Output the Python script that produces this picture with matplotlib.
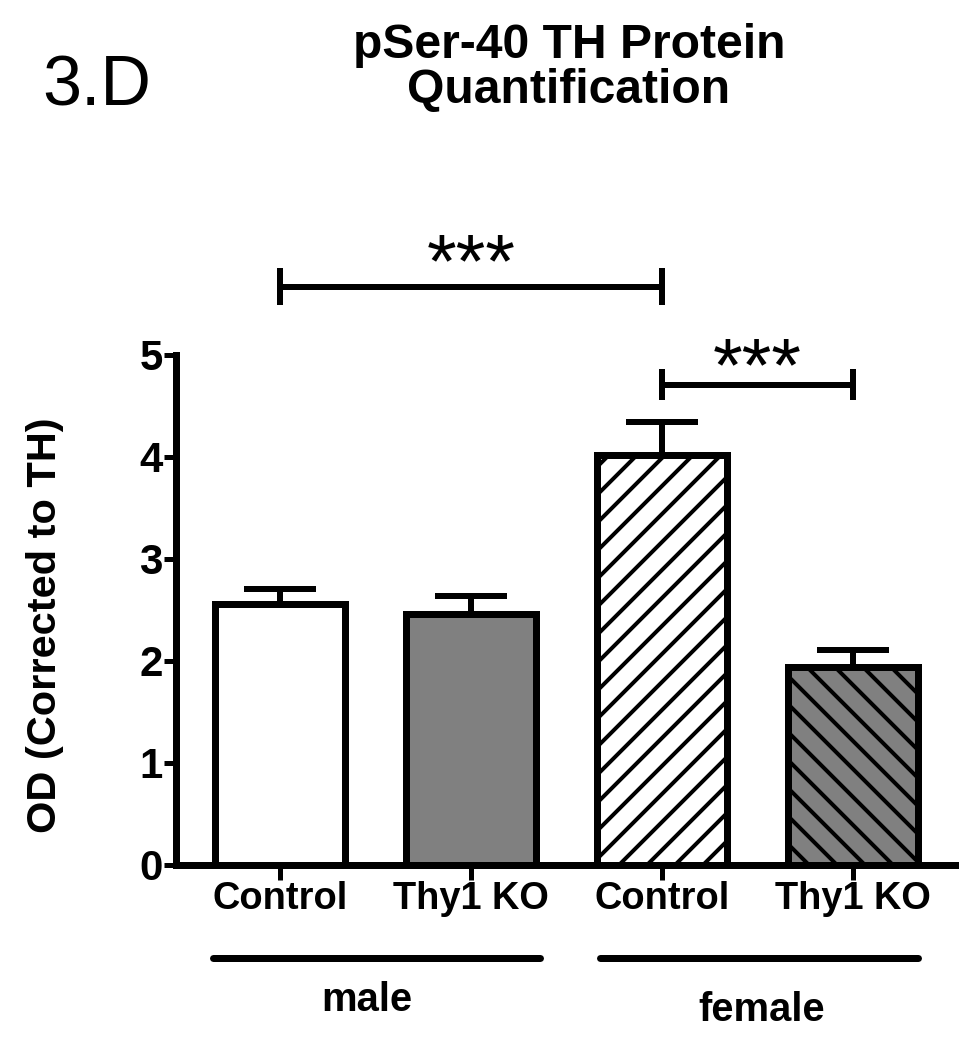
import matplotlib

matplotlib.use("Agg")
import matplotlib.pyplot as plt
from matplotlib import transforms

DPI = 84


def px(n: float) -> float:
    # pixel size -> points at the chosen dpi
    return n * 72 / DPI


groups = ["Control", "Thy1 KO", "Control", "Thy1 KO"]
means = [2.56, 2.46, 4.02, 1.94]
sems = [0.15, 0.18, 0.32, 0.17]
fills = ["white", "#808080", "white", "#808080"]
hatches = ["", "", "/", "\\"]
sexes = ["male", "female"]

plt.rcParams["font.family"] = ["Liberation Sans", "DejaVu Sans"]
plt.rcParams["hatch.linewidth"] = px(4)

fig = plt.figure(figsize=(974 / DPI, 1050 / DPI), dpi=DPI)
ax = fig.add_axes([176 / 974, 1 - 865 / 1050, (955 - 176) / 974, 510 / 1050])

x = list(range(len(means)))
ax.bar(
    x,
    means,
    width=0.68,
    color=fills,
    edgecolor="black",
    linewidth=px(7),
    hatch=hatches,
    zorder=3,
)
ax.errorbar(
    x,
    means,
    yerr=[[0] * len(sems), sems],
    fmt="none",
    ecolor="black",
    elinewidth=px(6),
    capsize=px(36),
    capthick=px(6),
    zorder=2,
)

ax.set_xlim(-0.545, 3.534)
ax.set_ylim(0, 5)
ax.set_yticks(range(6))
ax.set_xticks(x)
ax.set_xticklabels(groups, fontsize=px(38), fontweight="bold")
for lab in ax.get_yticklabels():
    lab.set_fontsize(px(42))
    lab.set_fontweight("bold")
ax.tick_params(axis="y", length=px(12), width=px(5), pad=1)
ax.tick_params(axis="x", length=px(15), width=px(5), pad=1)

for side in ("top", "right"):
    ax.spines[side].set_visible(False)
for side in ("left", "bottom"):
    ax.spines[side].set_linewidth(px(7))


# significance brackets
def bracket(x0: float, x1: float, y: float, cap: float, star_y: float) -> None:
    ax.plot([x0, x1], [y, y], color="black", lw=px(6), clip_on=False,
            solid_capstyle="butt")
    for xx in (x0, x1):
        ax.plot([xx, xx], [y - cap, y + cap], color="black", lw=px(6),
                clip_on=False)
    ax.text((x0 + x1) / 2, star_y, "***", ha="center", va="baseline",
            fontsize=px(76), clip_on=False)


bracket(0.0, 2.0, 5.67, 0.15, 5.67)
bracket(2.0, 3.0, 4.71, 0.12, 4.65)

# group lines under the x labels
trans = transforms.blended_transform_factory(ax.transData, ax.transAxes)
spans = [(-0.35, 1.36), (1.675, 3.34)]
label_x = [0.455, 2.52]
label_y = [-0.265, -0.285]
for (a, b), name, lx, ly in zip(spans, sexes, label_x, label_y):
    ax.plot([a, b], [-0.182, -0.182], color="black", lw=px(7),
            transform=trans, clip_on=False, solid_capstyle="round")
    ax.text(lx, ly, name, transform=trans, ha="center", va="center",
            fontsize=px(40), fontweight="bold")

fig.text(45 / 974, 1 - 625 / 1050, "OD (Corrected to TH)", rotation=90,
         ha="center", va="center", fontsize=px(41.5), fontweight="bold")
fig.text(569 / 974, 1 - 68 / 1050, "pSer-40 TH Protein\nQuantification",
         ha="center", va="center", fontsize=px(48), fontweight="bold",
         linespacing=1.0)
fig.text(42 / 974, 1 - 105 / 1050, "3.D", ha="left", va="baseline",
         fontsize=px(70))

fig.savefig("out.png", dpi=DPI)
